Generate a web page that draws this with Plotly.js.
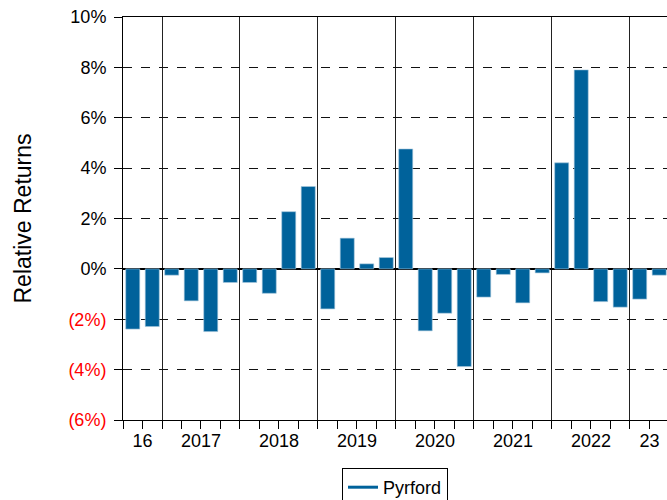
<!DOCTYPE html>
<html>
<head>
<meta charset="utf-8">
<script src="https://cdn.plot.ly/plotly-3.0.1.min.js"></script>
<style>html,body{margin:0;padding:0;background:#fff;}#chart{width:667px;height:500px;}</style>
</head>
<body>
<div id="chart"></div>
<script>
// Quarterly periods
const quarters = [
  '2016Q3','2016Q4',
  '2017Q1','2017Q2','2017Q3','2017Q4',
  '2018Q1','2018Q2','2018Q3','2018Q4',
  '2019Q1','2019Q2','2019Q3','2019Q4',
  '2020Q1','2020Q2','2020Q3','2020Q4',
  '2021Q1','2021Q2','2021Q3','2021Q4',
  '2022Q1','2022Q2','2022Q3','2022Q4',
  '2023Q1','2023Q2'
];
// Relative returns (%)
const pyrford = [
  -2.39, -2.29,
  -0.25, -1.27, -2.49, -0.54,
  -0.54, -0.97, 2.27, 3.27,
  -1.59, 1.22, 0.20, 0.45,
  4.76, -2.46, -1.76, -3.88,
  -1.12, -0.22, -1.35, -0.16,
  4.21, 7.90, -1.30, -1.52,
  -1.20, -0.25
];
const years = ['2016','2017','2018','2019','2020','2021','2022','2023'];
const yearLabels = ['16','2017','2018','2019','2020','2021','2022','23'];
const yTickVals = [-6,-4,-2,0,2,4,6,8,10];
const yTickText = ['(6%)','(4%)','(2%)','0%','2%','4%','6%','8%','10%'];

const barColor = '#00629b';
const xIdx = quarters.map((q, i) => i);

// derive year boundaries and centers from quarters
const yearCenters = years.map(y => {
  const idx = xIdx.filter(i => quarters[i].startsWith(y));
  return (idx[0] + idx[idx.length - 1]) / 2;
});
const yearBounds = years.slice(1).map(y => quarters.findIndex(q => q.startsWith(y)) - 0.5);
const quarterBounds = xIdx.map(i => i - 0.5).concat([xIdx.length - 0.5]);

const tickTextStyled = yTickVals.map((v, i) =>
  v < 0 ? '<span style="color:#ff0000">' + yTickText[i] + '</span>' : yTickText[i]);

const xRange = [-0.5, 27.4];
const font = {family: '"Liberation Sans", Arial, sans-serif', size: 18, color: '#000'};

const traces = [
  {
    type: 'bar', x: xIdx, y: pyrford, name: 'Pyrford', showlegend: false,
    marker: {color: barColor, line: {color: '#a9c9dd', width: 0.6}},
    hoverinfo: 'skip'
  },
  {
    type: 'scatter', mode: 'lines', x: [null], y: [null], name: 'Pyrford',
    xaxis: 'x2', line: {color: barColor, width: 3}
  },
  {
    type: 'scatter', mode: 'lines', x: [null], y: [null], showlegend: false,
    xaxis: 'x3'
  }
];

const layout = {
  width: 667, height: 500,
  margin: {l: 123, r: 0, t: 17, b: 80},
  paper_bgcolor: '#fff', plot_bgcolor: '#fff',
  font: font,
  bargap: 0.28,
  showlegend: true,
  xaxis: {
    type: 'linear', range: xRange, fixedrange: true,
    tickmode: 'array', tickvals: yearBounds, showticklabels: false,
    ticks: 'outside', ticklen: 8, tickcolor: '#000', tickwidth: 1,
    showgrid: true, gridcolor: '#222', gridwidth: 1,
    zeroline: false, showline: true, linecolor: '#000', linewidth: 1,
    minor: {tickmode: 'array', tickvals: quarterBounds, ticks: 'outside', ticklen: 8,
            tickcolor: '#000', tickwidth: 1, showgrid: false}
  },
  xaxis2: {
    type: 'linear', overlaying: 'x', anchor: 'y', side: 'bottom', range: xRange,
    tickmode: 'array', tickvals: yearCenters, ticktext: yearLabels,
    ticks: '', showgrid: false, zeroline: false, showline: false,
    ticklabelstandoff: 8, tickfont: font
  },
  xaxis3: {
    type: 'linear', overlaying: 'x', anchor: 'y', side: 'top', range: xRange,
    showticklabels: false, ticks: '', showgrid: false, zeroline: false,
    showline: true, linecolor: '#000', linewidth: 1
  },
  yaxis: {
    range: [-6, 10], fixedrange: true,
    tickmode: 'array', tickvals: yTickVals, ticktext: tickTextStyled,
    ticks: 'outside', ticklen: 8, tickcolor: '#000',
    ticklabelstandoff: 4,
    showgrid: true, gridcolor: '#111', gridwidth: 1, griddash: 'dash',
    zeroline: true, zerolinecolor: '#000', zerolinewidth: 2,
    showline: true, linecolor: '#000', linewidth: 1,
    tickfont: font,
    title: {text: 'Relative Returns', font: {family: font.family, size: 23, color: '#000'}, standoff: 30}
  },
  legend: {
    orientation: 'h', x: 0.5, xanchor: 'center',
    yref: 'container', y: 0.064, yanchor: 'top',
    bordercolor: '#000', borderwidth: 1, bgcolor: '#fff',
    font: font
  }
};

Plotly.newPlot('chart', traces, layout, {staticPlot: true, displayModeBar: false});
</script>
</body>
</html>
